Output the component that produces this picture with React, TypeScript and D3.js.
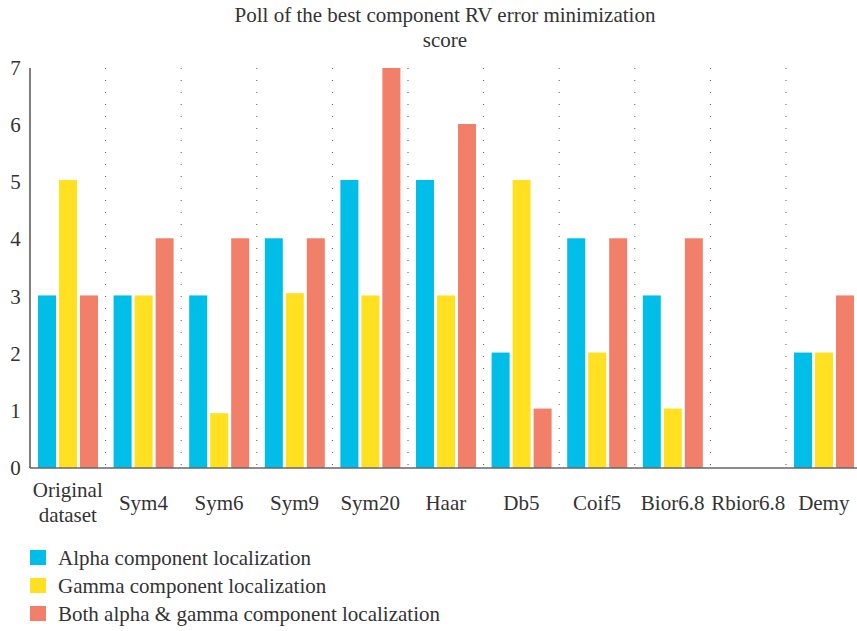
import React from "react";
import * as d3 from "d3";

const categories = ["Original\ndataset", "Sym4", "Sym6", "Sym9", "Sym20", "Haar", "Db5", "Coif5", "Bior6.8", "Rbior6.8", "Demy"];
const alphaValues = [3.02, 3.02, 3.02, 4.02, 5.04, 5.04, 2.02, 4.02, 3.02, 0, 2.02];
const gammaValues = [5.04, 3.02, 0.96, 3.06, 3.02, 3.02, 5.04, 2.02, 1.04, 0, 2.02];
const bothValues = [3.02, 4.02, 4.02, 4.02, 7.0, 6.02, 1.04, 4.02, 4.02, 0, 3.02];
const seriesNames = ["Alpha component localization", "Gamma component localization", "Both alpha & gamma component localization"];
const seriesColors = ["#00BEE8", "#FFE122", "#F27F69"];
const yTicks = [0, 1, 2, 3, 4, 5, 6, 7];
const titleLines = ["Poll of the best component RV error minimization", "score"];

const W = 857, H = 631;
const left = 30, right = 861.6, top = 68, bottom = 468;
const FONT = "'Liberation Serif', 'DejaVu Serif', serif";
const FS = 21;

export default function App() {
  const x = d3.scaleBand<number>().domain(d3.range(categories.length)).range([left, right]).padding(0);
  const y = d3.scaleLinear().domain([0, 7]).range([bottom, top]);
  const series = [alphaValues, gammaValues, bothValues];
  const barW = 18, gap = 3, offset = 8;
  return (
    <svg width={W} height={H} style={{ position: "absolute", left: 0, top: 0, background: "#fff" }} fontFamily={FONT}>
      {titleLines.map((t, i) => (
        <text key={i} x={445} y={22 + i * 25} textAnchor="middle" fontSize={FS} fill="#333">{t}</text>
      ))}
      {categories.slice(1).map((_, i) => (
        <line key={i} x1={x(i + 1)!} x2={x(i + 1)!} y1={top} y2={bottom} stroke="#555" strokeWidth={1} strokeDasharray="1 11" />
      ))}
      {series.map((vals, s) =>
        vals.map((v, i) =>
          v > 0 ? (
            <rect key={s + "-" + i} x={x(i)! + offset + s * (barW + gap)} y={y(v)} width={barW} height={bottom - y(v)} fill={seriesColors[s]} />
          ) : null
        )
      )}
      <line x1={left} x2={left} y1={top} y2={bottom} stroke="#555" strokeWidth={1.5} />
      <line x1={left} x2={W} y1={bottom} y2={bottom} stroke="#666" strokeWidth={1.5} />
      {yTicks.map((t) => (
        <text key={t} x={15.5} y={y(t) + 7} textAnchor="middle" fontSize={FS} fill="#333">{t}</text>
      ))}
      {categories.map((c, i) => {
        const lines = c.split("\n");
        const cx = x(i)! + x.bandwidth() / 2;
        return lines.map((l, j) => (
          <text key={i + "-" + j} x={cx} y={lines.length > 1 ? 497 + j * 25 : 510} textAnchor="middle" fontSize={FS} fill="#333">{l}</text>
        ));
      })}
      {seriesNames.map((n, i) => (
        <g key={n}>
          <rect x={30} y={550 + i * 28} width={16} height={15} fill={seriesColors[i]} />
          <text x={58} y={565 + i * 28} fontSize={FS} fill="#333">{n}</text>
        </g>
      ))}
    </svg>
  );
}
